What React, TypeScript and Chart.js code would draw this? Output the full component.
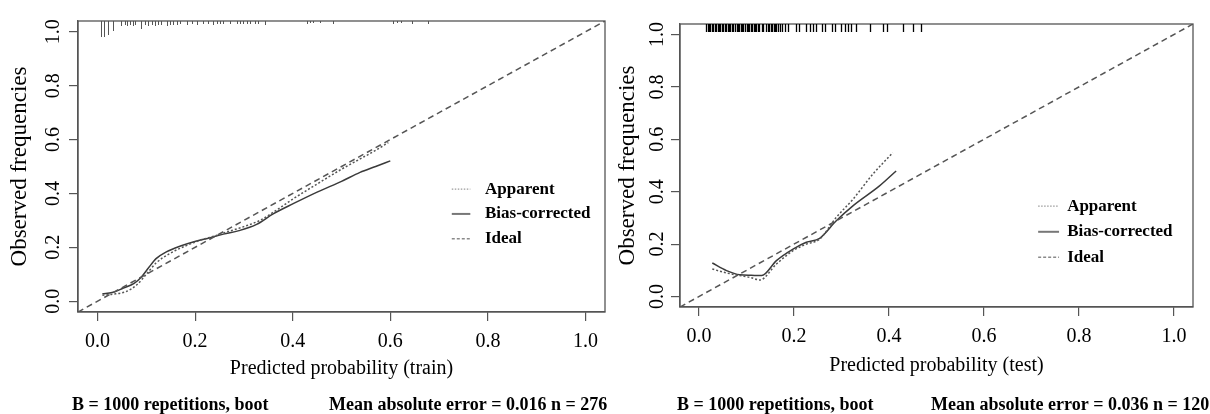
import React, { useEffect, useRef } from "react";
import { Chart, registerables } from "chart.js";

Chart.register(...registerables);

const FONT = "'Liberation Serif', 'Times New Roman', Times, serif";

// ---------- shared axis data ----------
const tickValues = [0, 0.2, 0.4, 0.6, 0.8, 1.0];
const axisMin = -0.04;
const axisMax = 1.04;
const idealX = [-0.04, 1.04];
const legendLabels = ["Apparent", "Bias-corrected", "Ideal"];
const yAxisTitle = "Observed frequencies";

// ---------- train panel ----------
const trainXTitle = "Predicted probability (train)";
const trainNotes = ["B = 1000 repetitions, boot", "Mean absolute error = 0.016 n = 276"];
const trainApparentX = [0.01, 0.03, 0.059, 0.08, 0.1, 0.12, 0.148, 0.18, 0.21, 0.24, 0.265, 0.3, 0.333, 0.37, 0.401, 0.45, 0.5, 0.538, 0.57, 0.596];
const trainApparentY = [0.022, 0.026, 0.036, 0.06, 0.1, 0.142, 0.177, 0.205, 0.226, 0.242, 0.257, 0.277, 0.3, 0.342, 0.38, 0.435, 0.49, 0.528, 0.56, 0.589];
const trainBiasX = [0.01, 0.03, 0.053, 0.075, 0.09, 0.105, 0.12, 0.141, 0.17, 0.196, 0.225, 0.258, 0.29, 0.326, 0.36, 0.401, 0.45, 0.5, 0.538, 0.57, 0.6];
const trainBiasY = [0.028, 0.032, 0.049, 0.066, 0.09, 0.125, 0.158, 0.183, 0.205, 0.22, 0.233, 0.249, 0.262, 0.285, 0.324, 0.362, 0.405, 0.445, 0.478, 0.5, 0.521];
const trainRugX = [0.008, 0.013, 0.022, 0.031, 0.049, 0.056, 0.061, 0.066, 0.072, 0.077, 0.09, 0.097, 0.104, 0.111, 0.118, 0.124, 0.131, 0.142, 0.148, 0.155, 0.162, 0.169, 0.183, 0.193, 0.203, 0.217, 0.227, 0.237, 0.244, 0.251, 0.258, 0.271, 0.285, 0.292, 0.299, 0.306, 0.313, 0.323, 0.329, 0.343, 0.429, 0.436, 0.442, 0.456, 0.483, 0.606, 0.613, 0.621, 0.644, 0.678];
const trainRugCount = [16, 16, 14, 10, 5, 4, 5, 4, 5, 4, 8, 4, 5, 4, 5, 4, 4, 5, 4, 4, 4, 3, 4, 3, 4, 3, 3, 4, 3, 3, 3, 3, 3, 3, 3, 3, 3, 3, 3, 4, 3, 2, 2, 2, 3, 3, 2, 2, 3, 3];

// ---------- test panel ----------
const testXTitle = "Predicted probability (test)";
const testNotes = ["B = 1000 repetitions, boot", "Mean absolute error = 0.036 n = 120"];
const testApparentX = [0.028, 0.058, 0.086, 0.11, 0.128, 0.163, 0.198, 0.226, 0.254, 0.289, 0.324, 0.366, 0.408];
const testApparentY = [0.105, 0.09, 0.08, 0.072, 0.063, 0.124, 0.175, 0.2, 0.219, 0.302, 0.371, 0.467, 0.549];
const testBiasX = [0.028, 0.058, 0.086, 0.11, 0.132, 0.163, 0.198, 0.226, 0.254, 0.289, 0.324, 0.38, 0.415];
const testBiasY = [0.128, 0.099, 0.083, 0.081, 0.08, 0.137, 0.181, 0.207, 0.222, 0.289, 0.346, 0.422, 0.479];
const testRugX = [0.015, 0.018, 0.021, 0.024, 0.027, 0.03, 0.033, 0.036, 0.039, 0.042, 0.044, 0.048, 0.051, 0.054, 0.057, 0.06, 0.063, 0.066, 0.069, 0.072, 0.076, 0.079, 0.082, 0.085, 0.088, 0.09, 0.093, 0.097, 0.1, 0.103, 0.106, 0.109, 0.112, 0.115, 0.118, 0.121, 0.124, 0.127, 0.132, 0.135, 0.142, 0.145, 0.148, 0.151, 0.154, 0.157, 0.16, 0.163, 0.166, 0.171, 0.174, 0.181, 0.188, 0.205, 0.21, 0.226, 0.233, 0.24, 0.247, 0.258, 0.265, 0.279, 0.286, 0.3, 0.307, 0.314, 0.321, 0.33, 0.359, 0.387, 0.396, 0.429, 0.45, 0.468];
const testRugCount = testRugX.map(() => 1);

type Panel = {
  left: number;
  width: number;
  area: { left: number; top: number; right: number; bottom: number };
  xTitle: string;
  notes: string[];
  apparentX: number[];
  apparentY: number[];
  biasX: number[];
  biasY: number[];
  rugX: number[];
  rugCount: number[];
  rugUnit: number;
  rugColor: string;
  rugWidth: number;
  tension: number;
  legend: { sampleX0: number; sampleX1: number; textX: number; rows: number[] };
  yTitlePad: number;
  yTickPad: number;
  xTitlePad: number;
  notesX: number[];
};

const panels: Panel[] = [
  {
    left: 0,
    width: 612,
    area: { left: 78, top: 21, right: 605, bottom: 312 },
    xTitle: trainXTitle,
    notes: trainNotes,
    apparentX: trainApparentX,
    apparentY: trainApparentY,
    biasX: trainBiasX,
    biasY: trainBiasY,
    rugX: trainRugX,
    rugCount: trainRugCount,
    rugUnit: 1,
    rugColor: "#555",
    rugWidth: 1,
    tension: 0.3,
    legend: { sampleX0: 0.726, sampleX1: 0.764, textX: 0.794, rows: [0.416, 0.324, 0.232] },
    yTitlePad: 6,
    yTickPad: 3,
    xTitlePad: 33,
    notesX: [72, 329],
  },
  {
    left: 605,
    width: 605,
    area: { left: 75, top: 24, right: 588, bottom: 307 },
    xTitle: testXTitle,
    notes: testNotes,
    apparentX: testApparentX,
    apparentY: testApparentY,
    biasX: testBiasX,
    biasY: testBiasY,
    rugX: testRugX,
    rugCount: testRugCount,
    rugUnit: 8,
    rugColor: "#000",
    rugWidth: 1.3,
    tension: 0.05,
    legend: { sampleX0: 0.714, sampleX1: 0.758, textX: 0.775, rows: [0.345, 0.247, 0.15] },
    yTitlePad: 9,
    yTickPad: 1,
    xTitlePad: 36,
    notesX: [72, 326],
  },
];

const decorPlugin = {
  id: "decor",
  beforeDatasetsDraw(chart: any) {
    const { ctx, chartArea: a } = chart;
    ctx.save();
    ctx.strokeStyle = "#555";
    ctx.lineWidth = 1.3;
    ctx.strokeRect(a.left, a.top, a.right - a.left, a.bottom - a.top);
    ctx.restore();
  },
  afterDraw(chart: any, _args: any, opts: any) {
    const { ctx, chartArea: a, scales } = chart;
    const xs = scales.x;
    const ys = scales.y;
    const p: Panel = opts.panel;
    ctx.save();
    // rug of predicted probabilities along the top
    ctx.strokeStyle = p.rugColor;
    ctx.lineWidth = p.rugWidth;
    p.rugX.forEach((v, i) => {
      const px = Math.round(xs.getPixelForValue(v)) + 0.5;
      ctx.beginPath();
      ctx.moveTo(px, a.top);
      ctx.lineTo(px, a.top + p.rugCount[i] * p.rugUnit);
      ctx.stroke();
    });
    // legend
    const styles = [
      { color: "#9a9a9a", dash: [1.5, 1.5], width: 1.3 },
      { color: "#777", dash: [], width: 2 },
      { color: "#8a8a8a", dash: [3, 2], width: 1.4 },
    ];
    const lx0 = xs.getPixelForValue(p.legend.sampleX0);
    const lx1 = xs.getPixelForValue(p.legend.sampleX1);
    const tx = xs.getPixelForValue(p.legend.textX);
    ctx.font = `bold 17px ${FONT}`;
    ctx.textBaseline = "middle";
    ctx.textAlign = "left";
    legendLabels.forEach((lab, i) => {
      const y = ys.getPixelForValue(p.legend.rows[i]);
      const s = styles[i];
      ctx.strokeStyle = s.color;
      ctx.lineWidth = s.width;
      ctx.setLineDash(s.dash);
      ctx.beginPath();
      ctx.moveTo(lx0, y);
      ctx.lineTo(lx1, y);
      ctx.stroke();
      ctx.setLineDash([]);
      ctx.fillStyle = "#000";
      ctx.fillText(lab, tx, y);
    });
    // notes under the plot
    ctx.font = `bold 18px ${FONT}`;
    ctx.textBaseline = "alphabetic";
    ctx.fillStyle = "#000";
    p.notes.forEach((t, i) => ctx.fillText(t, p.notesX[i], 410));
    ctx.restore();
  },
};

function makeConfig(p: Panel): any {
  const tickFont = { family: FONT, size: 20 };
  return {
    type: "scatter",
    data: {
      datasets: [
        {
          label: legendLabels[2],
          data: idealX.map((v) => ({ x: v, y: v })),
          showLine: true,
          borderColor: "#555",
          borderWidth: 1.5,
          borderDash: [6, 4],
          pointRadius: 0,
        },
        {
          label: legendLabels[0],
          data: p.apparentX.map((v, i) => ({ x: v, y: p.apparentY[i] })),
          showLine: true,
          borderColor: "#555",
          borderWidth: 1.5,
          borderDash: [2, 2],
          pointRadius: 0,
          tension: p.tension,
          cubicInterpolationMode: "monotone",
        },
        {
          label: legendLabels[1],
          data: p.biasX.map((v, i) => ({ x: v, y: p.biasY[i] })),
          showLine: true,
          borderColor: "#3a3a3a",
          borderWidth: 1.5,
          pointRadius: 0,
          tension: p.tension,
          cubicInterpolationMode: "monotone",
        },
      ],
    },
    options: {
      responsive: false,
      animation: false,
      events: [],
      layout: {
        padding: { left: 0, top: p.area.top, right: p.width - p.area.right, bottom: 0 },
      },
      plugins: {
        legend: { display: false },
        tooltip: { enabled: false },
        decor: { panel: p },
      },
      scales: {
        x: {
          type: "linear",
          min: axisMin,
          max: axisMax,
          afterBuildTicks: (s: any) => {
            s.ticks = tickValues.map((v) => ({ value: v }));
          },
          afterFit: (s: any) => {
            s.height = 414 - p.area.bottom;
            s.paddingLeft = 0;
            s.paddingRight = 0;
          },
          ticks: {
            font: tickFont,
            color: "#000",
            padding: 9,
            maxRotation: 0,
            callback: (v: number) => v.toFixed(1),
          },
          grid: { drawOnChartArea: false, drawTicks: true, tickLength: 9, color: "#555", lineWidth: 1.2 },
          border: { display: true, color: "#555", width: 1.3 },
          title: {
            display: true,
            text: p.xTitle,
            font: { family: FONT, size: 20 },
            color: "#000",
            padding: { top: 0, bottom: p.xTitlePad },
          },
        },
        y: {
          type: "linear",
          min: axisMin,
          max: axisMax,
          afterBuildTicks: (s: any) => {
            s.ticks = tickValues.map((v) => ({ value: v }));
          },
          afterFit: (s: any) => {
            s.width = p.area.left;
            s.paddingTop = 0;
            s.paddingBottom = 0;
          },
          ticks: {
            font: tickFont,
            color: "#000",
            padding: p.yTickPad,
            minRotation: 90,
            maxRotation: 90,
            crossAlign: "center",
            callback: (v: number) => v.toFixed(1),
          },
          grid: { drawOnChartArea: false, drawTicks: true, tickLength: 9, color: "#555", lineWidth: 1.2 },
          border: { display: true, color: "#555", width: 1.3 },
          title: {
            display: true,
            text: yAxisTitle,
            font: { family: FONT, size: 23 },
            color: "#000",
            padding: { top: p.yTitlePad, bottom: 0 },
          },
        },
      },
    },
    plugins: [decorPlugin],
  };
}

function CalibrationPanel({ panel }: { panel: Panel }) {
  const ref = useRef<HTMLCanvasElement>(null);
  useEffect(() => {
    const chart = new Chart(ref.current as HTMLCanvasElement, makeConfig(panel));
    return () => chart.destroy();
  }, [panel]);
  return (
    <canvas
      ref={ref}
      width={panel.width}
      height={414}
      style={{ position: "absolute", left: panel.left, top: 0, width: panel.width, height: 414 }}
    />
  );
}

export default function App() {
  return (
    <div style={{ position: "fixed", left: 0, top: 0, width: 1210, height: 414, background: "#fff", overflow: "hidden" }}>
      {panels.map((p, i) => (
        <CalibrationPanel key={i} panel={p} />
      ))}
    </div>
  );
}
